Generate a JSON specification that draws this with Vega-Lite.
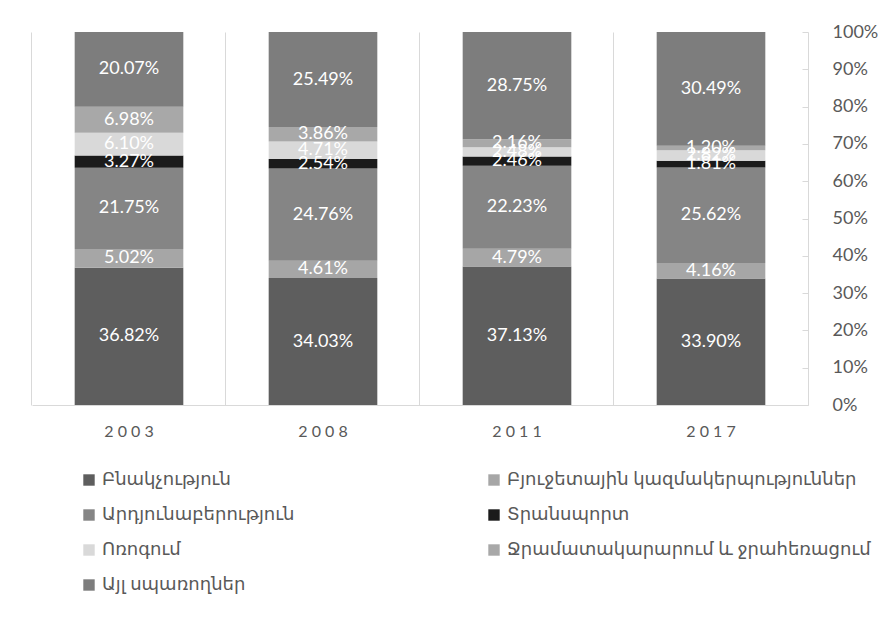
{
  "$schema": "https://vega.github.io/schema/vega-lite/v6.json",
  "width": 776,
  "height": 373,
  "autosize": {"type": "none"},
  "padding": {"left": 32, "top": 32, "right": 87, "bottom": 214},
  "background": "white",
  "config": {"view": {"stroke": null}, "font": "Lato, DejaVu Sans"},
  "data": {"values": [
    {"year": "2003", "o": 1, "cat": "Բնակչություն", "v": 36.82},
    {"year": "2003", "o": 2, "cat": "Բյուջետային կազմակերպություններ", "v": 5.02},
    {"year": "2003", "o": 3, "cat": "Արդյունաբերություն", "v": 21.75},
    {"year": "2003", "o": 4, "cat": "Տրանսպորտ", "v": 3.27},
    {"year": "2003", "o": 5, "cat": "Ոռոգում", "v": 6.10},
    {"year": "2003", "o": 6, "cat": "Ջրամատակարարում և ջրահեռացում", "v": 6.98},
    {"year": "2003", "o": 7, "cat": "Այլ սպառողներ", "v": 20.07},
    {"year": "2008", "o": 1, "cat": "Բնակչություն", "v": 34.03},
    {"year": "2008", "o": 2, "cat": "Բյուջետային կազմակերպություններ", "v": 4.61},
    {"year": "2008", "o": 3, "cat": "Արդյունաբերություն", "v": 24.76},
    {"year": "2008", "o": 4, "cat": "Տրանսպորտ", "v": 2.54},
    {"year": "2008", "o": 5, "cat": "Ոռոգում", "v": 4.71},
    {"year": "2008", "o": 6, "cat": "Ջրամատակարարում և ջրահեռացում", "v": 3.86},
    {"year": "2008", "o": 7, "cat": "Այլ սպառողներ", "v": 25.49},
    {"year": "2011", "o": 1, "cat": "Բնակչություն", "v": 37.13},
    {"year": "2011", "o": 2, "cat": "Բյուջետային կազմակերպություններ", "v": 4.79},
    {"year": "2011", "o": 3, "cat": "Արդյունաբերություն", "v": 22.23},
    {"year": "2011", "o": 4, "cat": "Տրանսպորտ", "v": 2.46},
    {"year": "2011", "o": 5, "cat": "Ոռոգում", "v": 2.48},
    {"year": "2011", "o": 6, "cat": "Ջրամատակարարում և ջրահեռացում", "v": 2.16},
    {"year": "2011", "o": 7, "cat": "Այլ սպառողներ", "v": 28.75},
    {"year": "2017", "o": 1, "cat": "Բնակչություն", "v": 33.90},
    {"year": "2017", "o": 2, "cat": "Բյուջետային կազմակերպություններ", "v": 4.16},
    {"year": "2017", "o": 3, "cat": "Արդյունաբերություն", "v": 25.62},
    {"year": "2017", "o": 4, "cat": "Տրանսպորտ", "v": 1.81},
    {"year": "2017", "o": 5, "cat": "Ոռոգում", "v": 2.82},
    {"year": "2017", "o": 6, "cat": "Ջրամատակարարում և ջրահեռացում", "v": 1.20},
    {"year": "2017", "o": 7, "cat": "Այլ սպառողներ", "v": 30.49}
  ]},
  "transform": [{"calculate": "format(datum.v, '.2f') + '%'", "as": "label"}],
  "layer": [
    {
      "mark": {"type": "bar"},
      "encoding": {
        "x": {
          "field": "year", "type": "ordinal",
          "scale": {"paddingInner": 0.44, "paddingOuter": 0.22},
          "axis": {
            "orient": "bottom", "title": null, "grid": false, "ticks": false, "tickSize": 0,
            "labelExpr": "join(split(datum.label, ''), ' ')",
            "labelAngle": 0, "labelFontSize": 16, "labelColor": "#595959", "labelPadding": 18,
            "domainColor": "#d9d9d9", "domainWidth": 1
          }
        },
        "y": {
          "field": "v", "type": "quantitative", "stack": "zero",
          "scale": {"domain": [0, 100], "nice": false},
          "axis": {
            "orient": "right", "title": null, "values": [0, 10, 20, 30, 40, 50, 60, 70, 80, 90, 100],
            "labelExpr": "datum.value + '%'", "labelFontSize": 18, "labelColor": "#595959",
            "labelOverlap": false,
            "grid": false, "domainColor": "#d9d9d9", "tickColor": "#d9d9d9", "tickSize": -6,
            "labelPadding": 30
          }
        },
        "color": {
          "field": "cat", "type": "nominal",
          "scale": {
            "domain": ["Բնակչություն", "Արդյունաբերություն", "Ոռոգում", "Այլ սպառողներ", "Բյուջետային կազմակերպություններ", "Տրանսպորտ", "Ջրամատակարարում և ջրահեռացում"],
            "range": ["#5e5e5e", "#858585", "#d9d9d9", "#7d7d7d", "#a6a6a6", "#1b1b1b", "#a8a8a8"]
          },
          "legend": {
            "orient": "none", "legendX": 48, "legendY": 439, "columns": 2, "title": null,
            "symbolType": "square", "symbolSize": 130, "symbolStrokeWidth": 0,
            "labelFontSize": 18, "labelColor": "#595959", "labelLimit": 500,
            "columnPadding": 190, "rowPadding": 17
          }
        },
        "order": {"field": "o", "type": "quantitative"}
      }
    },
    {
      "mark": {"type": "text", "color": "white", "fontSize": 18},
      "encoding": {
        "x": {
          "field": "year", "type": "ordinal",
          "axis": {
            "orient": "top", "title": null, "labels": false, "ticks": false, "domain": false,
            "grid": true, "gridColor": "#d9d9d9", "bandPosition": -0.393
          }
        },
        "y": {"field": "v", "type": "quantitative", "stack": "zero", "bandPosition": 0.5, "axis": null},
        "detail": {"field": "cat"},
        "text": {"field": "label"},
        "order": {"field": "o", "type": "quantitative"}
      }
    }
  ],
  "resolve": {"axis": {"x": "independent", "y": "independent"}}
}
